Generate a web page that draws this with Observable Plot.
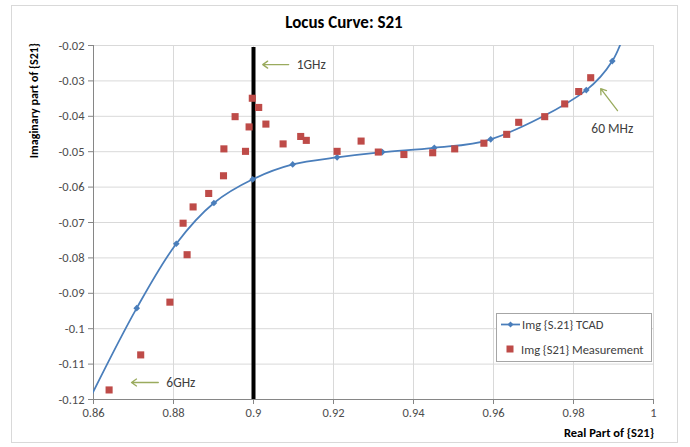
<!DOCTYPE html>
<html><head><meta charset="utf-8">
<script src="https://cdn.jsdelivr.net/npm/d3@7"></script>
<script src="https://cdn.jsdelivr.net/npm/@observablehq/plot@0.6"></script>
<style>
body{margin:0;background:#fff;}
#chart{width:690px;height:447px;}
</style></head><body><div id="chart"></div>
<script>
// TCAD simulation (first and last points lie just outside the axes and are clipped)
const tcadX = [0.857, 0.8708, 0.8807, 0.8901, 0.8998, 0.9098, 0.9209, 0.9322, 0.9452, 0.9593, 0.9832, 0.9897, 0.9935];
const tcadY = [-0.1245, -0.0942, -0.0760, -0.0645, -0.0578, -0.0536, -0.0516, -0.0501, -0.0489, -0.0465, -0.0326, -0.0244, -0.0140];
// Measurement
const measX = [0.8639, 0.8718, 0.8791, 0.8834, 0.8824, 0.8849, 0.8888, 0.8925, 0.8926, 0.8954, 0.8980, 0.8989, 0.8997, 0.9013, 0.9031, 0.9074, 0.9118, 0.9132, 0.9209, 0.9269, 0.9312, 0.9376, 0.9448, 0.9503, 0.9576, 0.9633, 0.9663, 0.9728, 0.9778, 0.9813, 0.9843];
const measY = [-0.1173, -0.1074, -0.0925, -0.0791, -0.0702, -0.0656, -0.0618, -0.0568, -0.0492, -0.0401, -0.0499, -0.0430, -0.0349, -0.0375, -0.0422, -0.0478, -0.0457, -0.0468, -0.0499, -0.0470, -0.0501, -0.0508, -0.0503, -0.0492, -0.0476, -0.0451, -0.0417, -0.0401, -0.0365, -0.0330, -0.0291];
const xTicks = [0.86, 0.88, 0.9, 0.92, 0.94, 0.96, 0.98, 1];
const yTicks = [-0.12, -0.11, -0.1, -0.09, -0.08, -0.07, -0.06, -0.05, -0.04, -0.03, -0.02];
const markerX = [0.9];
const annotLabels = ["1GHz", "6GHz", "60 MHz"];
const annotArrowFrom = [[0.9088, -0.0254], [0.8762, -0.1152], [0.9910, -0.0384]];
const annotArrowTo = [[0.9023, -0.0254], [0.8695, -0.1152], [0.9868, -0.0322]];
const annotTextAt = [[0.9108, -0.0254], [0.8782, -0.1152], [0.9897, -0.0435]];

const tcad = tcadX.map((x, i) => ({x, y: tcadY[i]}));
const meas = measX.map((x, i) => ({x, y: measY[i]}));
const annots = annotLabels.map((label, i) => ({
  label,
  x1: annotArrowFrom[i][0], y1: annotArrowFrom[i][1],
  x2: annotArrowTo[i][0], y2: annotArrowTo[i][1],
  tx: annotTextAt[i][0], ty: annotTextAt[i][1]
}));

const font = "Carlito, Calibri, Lato, 'Open Sans', sans-serif";
const blue = "#4a7ebb", red = "#be4b48", olive = "#9aab5e", grid = "#d9d9d9", axisCol = "#868686";

const plot = Plot.plot({
  width: 690, height: 447,
  marginLeft: 93, marginRight: 37, marginTop: 45, marginBottom: 48,
  style: {fontFamily: font, fontSize: "12px", color: "#595959", background: "white", overflow: "visible"},
  x: {domain: [0.86, 1], label: null},
  y: {domain: [-0.12, -0.02], label: null},
  marks: [
    Plot.gridX(xTicks, {stroke: grid, strokeOpacity: 1}),
    Plot.gridY(yTicks, {stroke: grid, strokeOpacity: 1}),
    Plot.ruleY([-0.12], {stroke: axisCol}),
    Plot.ruleX([0.86], {stroke: axisCol}),
    Plot.axisX(xTicks, {tickSize: 5, tickPadding: 4, stroke: axisCol, fill: "#4d4d4d", tickFormat: d => String(d), fontSize: 12.5}),
    Plot.axisY(yTicks, {tickSize: 5, tickPadding: 4, stroke: axisCol, fill: "#4d4d4d", tickFormat: d => String(d), fontSize: 12.5}),
    Plot.ruleX(markerX, {stroke: "black", strokeWidth: 4, insetTop: 2}),
    Plot.line(tcad, {x: "x", y: "y", curve: "catmull-rom", stroke: blue, strokeWidth: 1.75, clip: true}),
    Plot.dot(tcad, {x: "x", y: "y", symbol: "diamond2", r: 3, fill: blue, stroke: "none", clip: true}),
    Plot.dot(meas, {x: "x", y: "y", symbol: "square", r: 4, fill: red}),
    Plot.arrow(annots, {x1: "x1", y1: "y1", x2: "x2", y2: "y2", stroke: olive, strokeWidth: 1.3, headLength: 7, headAngle: 70}),
    Plot.text(annots.filter(d => d.label !== "60 MHz"), {x: "tx", y: "ty", text: "label", textAnchor: "start", fontSize: 13.5, fill: "#404040"}),
    Plot.text(annots.filter(d => d.label === "60 MHz"), {x: "tx", y: "ty", text: "label", textAnchor: "middle", fontSize: 13.5, fill: "#404040"})
  ]
});

const svg = d3.select(plot);
// outer chart border
svg.insert("rect", ":first-child").attr("x", 11.5).attr("y", 5.5).attr("width", 666).attr("height", 437)
  .attr("fill", "white").attr("stroke", grid);
// title
svg.append("text").attr("x", 344).attr("y", 28).attr("text-anchor", "middle")
  .attr("font-size", 17).attr("font-weight", "bold").attr("fill", "#000").text("Locus Curve: S21");
// y title
svg.append("text").attr("transform", "translate(38,43) rotate(-90)").attr("text-anchor", "end")
  .attr("font-size", 12).attr("font-weight", "bold").attr("fill", "#000").text("Imaginary part of {S21}");
// x title
svg.append("text").attr("x", 654).attr("y", 437).attr("text-anchor", "end")
  .attr("font-size", 12.5).attr("font-weight", "bold").attr("fill", "#000").text("Real Part of {S21}");
// legend
const lg = svg.append("g").attr("text-anchor", "start");
lg.append("rect").attr("x", 496.5).attr("y", 313.5).attr("width", 155).attr("height", 48)
  .attr("fill", "white").attr("stroke", "#a6a6a6");
lg.append("line").attr("x1", 501).attr("x2", 520).attr("y1", 324.5).attr("y2", 324.5).attr("stroke", blue).attr("stroke-width", 1.75);
lg.append("path").attr("d", "M510.5,321.5 L513.5,324.5 L510.5,327.5 L507.5,324.5 Z").attr("fill", blue);
lg.append("text").attr("x", 522).attr("y", 329).attr("text-anchor", "start").attr("font-size", 12.5).attr("fill", "#404040").text("Img {S.21} TCAD");
lg.append("rect").attr("x", 506.5).attr("y", 345.5).attr("width", 7).attr("height", 7).attr("fill", red);
lg.append("text").attr("x", 521).attr("y", 353.5).attr("text-anchor", "start").attr("font-size", 12.5).attr("fill", "#404040").text("Img {S21} Measurement");

document.getElementById("chart").appendChild(plot);
</script></body></html>
